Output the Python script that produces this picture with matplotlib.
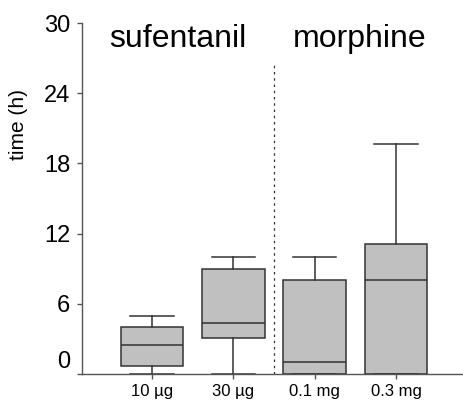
import matplotlib
matplotlib.use("Agg")
import matplotlib.pyplot as plt
from matplotlib.transforms import ScaledTranslation

plt.rcParams['font.family'] = ['Liberation Sans', 'DejaVu Sans']

groups = ["10 µg", "30 µg", "0.1 mg", "0.3 mg"]
whislo = [0.0, 0.0, 0.0, 0.0]
q1 = [0.7, 3.05, 0.0, 0.0]
med = [2.5, 4.4, 1.0, 8.0]
q3 = [4.0, 9.0, 8.0, 11.1]
whishi = [5.0, 10.0, 10.0, 19.7]
yticks = [0, 6, 12, 18, 24, 30]
titles = ["sufentanil", "morphine"]

W, H = 464, 400
fig = plt.figure(figsize=(W/100, H/100), dpi=100)
ax = fig.add_axes([82/W, 26/H, 1 - 82/W, (374-23)/H])

stats = [dict(label=g, whislo=lo, q1=a, med=m, q3=b, whishi=hi, fliers=[])
         for g, lo, a, m, b, hi in zip(groups, whislo, q1, med, q3, whishi)]
edge = '#333333'
ax.bxp(stats, positions=[1, 2, 3, 4], widths=0.77, patch_artist=True,
       showfliers=False,
       boxprops=dict(facecolor='#c0c0c0', edgecolor=edge, linewidth=1.1),
       medianprops=dict(color=edge, linewidth=1.1),
       whiskerprops=dict(color=edge, linewidth=1.1),
       capprops=dict(color=edge, linewidth=1.1),
       capwidths=0.53)

ax.set_xlim(1 - 70/81.3, 4 + 68/81.3)
ax.set_ylim(0, 30)
ax.set_yticks(yticks)
ax.set_yticklabels([str(t) for t in yticks], fontsize=17)
ax.set_xticks([1, 2, 3, 4])
ax.set_xticklabels(groups, fontsize=12)
for spine in ['top', 'right']:
    ax.spines[spine].set_visible(False)
for spine in ['left', 'bottom']:
    ax.spines[spine].set_color('#555555')
    ax.spines[spine].set_linewidth(1.0)
ax.tick_params(axis='both', length=3.5, color='#555555', width=1.0)
ax.tick_params(axis='y', pad=5)
ax.tick_params(axis='x', pad=4)
lbls = ax.get_yticklabels()
lbls[0].set_transform(lbls[0].get_transform() + ScaledTranslation(0, 14/100, fig.dpi_scale_trans))

fig.text(19/W, 1 - 124/H, "time (h)", fontsize=15, rotation=90, ha='center', va='center')

ax.axvline(2.5, ymin=0, ymax=(374-62)/(374-23), color='#333333', linestyle=(0, (2, 3)), linewidth=0.9)

ax.text(1.32, 28.6, titles[0], fontsize=23, ha='center', va='center')
ax.text(3.55, 28.6, titles[1], fontsize=23, ha='center', va='center')

fig.savefig("out.png", dpi=100)
